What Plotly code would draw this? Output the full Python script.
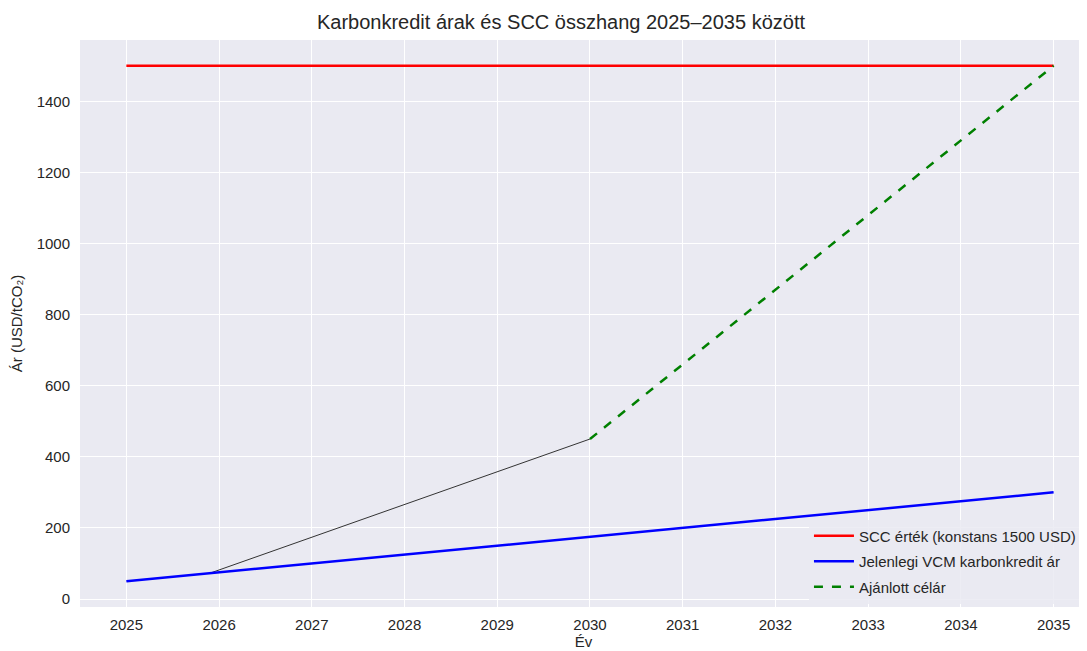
import plotly.graph_objects as go

years = list(range(2025, 2036))
scc_values = [1500] * len(years)
vcm_values = [50, 75, 100, 125, 150, 175, 200, 225, 250, 275, 300]
bridge_years = [2025.9, 2030]
bridge_values = [72.5, 450]
target_years = [2030, 2031, 2032, 2033, 2034, 2035]
target_values = [450, 660, 870, 1080, 1290, 1500]
tick_years = list(range(2025, 2036))
y_ticks = [0, 200, 400, 600, 800, 1000, 1200, 1400]

fig = go.Figure()
fig.add_trace(go.Scatter(x=bridge_years, y=bridge_values, mode="lines",
                         line=dict(color="#333333", width=1), showlegend=False, hoverinfo="skip"))
fig.add_trace(go.Scatter(x=years, y=scc_values, mode="lines", name="SCC érték (konstans 1500 USD)",
                         legendgroup="a", line=dict(color="#ff0000", width=2.5)))
fig.add_trace(go.Scatter(x=years, y=vcm_values, mode="lines", name="Jelenlegi VCM karbonkredit ár",
                         legendgroup="b", line=dict(color="#0000ff", width=2.5)))
fig.add_trace(go.Scatter(x=target_years, y=target_values, mode="lines", name="Ajánlott célár",
                         legendgroup="c", line=dict(color="#008000", width=2.5, dash="dash")))

fig.update_layout(
    width=1079, height=643,
    margin=dict(l=72, r=0, t=32, b=44, autoexpand=False),
    paper_bgcolor="white", plot_bgcolor="#EAEAF2",
    font=dict(family="Liberation Sans, Arial, sans-serif", size=15, color="#262626"),
    title=dict(text="Karbonkredit árak és SCC összhang 2025–2035 között", x=0.5125, xanchor="center",
               y=0.978, yanchor="middle", font=dict(size=20, color="#262626")),
    xaxis=dict(range=[2024.5, 2035.36], tickvals=tick_years, showgrid=True, gridcolor="white", gridwidth=1.3,
               zeroline=False, ticks="", ticklabelstandoff=7, automargin=False,
               title=dict(text="Év", font=dict(size=15), standoff=3)),
    yaxis=dict(range=[-22.5, 1572.5], tickvals=y_ticks, showgrid=True, gridcolor="white", gridwidth=1.3,
               zeroline=False, ticks="", ticklabelstandoff=9, automargin=False,
               title=dict(text="Ár (USD/tCO₂)", font=dict(size=15), standoff=12)),
    legend=dict(x=0.994, y=0.006, xanchor="right", yanchor="bottom", bgcolor="rgba(234,234,242,0.85)",
                font=dict(size=15), tracegroupgap=3, itemwidth=40),
)
fig.write_html("out.html")
